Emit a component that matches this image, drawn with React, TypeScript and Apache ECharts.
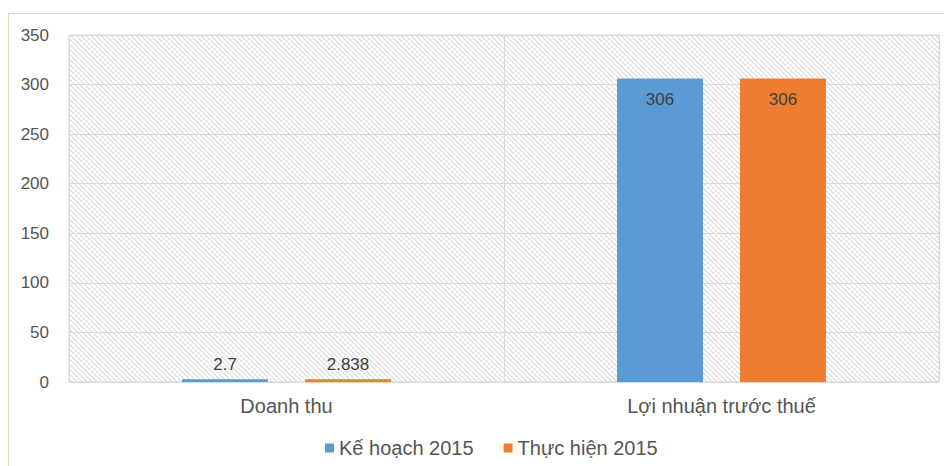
import React, { useEffect, useRef } from "react";
import * as echarts from "echarts";

const categories = ["Doanh thu", "Lợi nhuận trước thuế"];
const seriesNames = ["Kế hoạch 2015", "Thực hiện 2015"];
const planValues = [2.7, 306];
const actualValues = [2.838, 306];
const labelPositions = ["top", "insideTop"];
const yTicks = { min: 0, max: 350, interval: 50 };
const colors = ["#5b9bd5", "#ed7d31"];

function makeHatch() {
  const c = document.createElement("canvas");
  const n = 5;
  c.width = n;
  c.height = n;
  const ctx = c.getContext("2d")!;
  ctx.fillStyle = "#ffffff";
  ctx.fillRect(0, 0, n, n);
  for (let i = 0; i < n; i++) {
    ctx.fillStyle = "#dadada";
    ctx.fillRect(i, i, 1, 1);
    ctx.fillStyle = "#eeeeee";
    ctx.fillRect((i + 1) % n, i, 1, 1);
  }
  return c;
}

export default function App() {
  const ref = useRef<HTMLDivElement>(null);
  useEffect(() => {
    if (!ref.current) return;
    const chart = echarts.init(ref.current, null, { renderer: "svg" });
    const font = "Liberation Sans, Arial, sans-serif";
    const mk = (vals: number[]) =>
      vals.map((v, i) => ({
        value: v,
        label: { position: labelPositions[i] as any, distance: labelPositions[i] === "top" ? 6 : 12 },
      }));
    const hatch = makeHatch();
    chart.setOption({
      animation: false,
      backgroundColor: "#ffffff",
      textStyle: { fontFamily: font },
      graphic: [
        { type: "line", shape: { x1: 8.5, y1: 13.5, x2: 8.5, y2: 466 }, style: { stroke: "#dcd8c4", lineWidth: 1 } },
        { type: "line", shape: { x1: 8, y1: 13.5, x2: 944, y2: 13.5 }, style: { stroke: "#dcd8c4", lineWidth: 1 } },
      ],
      grid: {
        left: 69,
        top: 35,
        right: 5,
        bottom: 84,
        show: true,
        borderColor: "#d9d9d9",
        borderWidth: 1,
        backgroundColor: { image: hatch, repeat: "repeat", imageWidth: 5, imageHeight: 5 } as any,
      },
      legend: {
        left: 320,
        top: 433,
        icon: "rect",
        itemWidth: 9,
        itemHeight: 9,
        itemGap: 30,
        textStyle: { fontFamily: font, fontSize: 20, color: "#555555" },
        data: seriesNames,
      },
      xAxis: {
        type: "category",
        data: categories,
        axisLine: { lineStyle: { color: "#d9d9d9" } },
        axisTick: { show: false },
        splitLine: { show: true, lineStyle: { color: "#d9d9d9" } },
        axisLabel: { fontFamily: font, fontSize: 20, color: "#555555", margin: 14 },
      },
      yAxis: {
        type: "value",
        min: yTicks.min,
        max: yTicks.max,
        interval: yTicks.interval,
        axisLine: { show: false },
        axisTick: { show: false },
        splitLine: { lineStyle: { color: "#d9d9d9" } },
        axisLabel: { fontFamily: font, fontSize: 17, color: "#555555", margin: 20 },
      },
      series: [
        {
          name: seriesNames[0],
          type: "bar",
          data: mk(planValues),
          barWidth: 86,
          barGap: "43%",
          itemStyle: { color: colors[0] },
          label: { show: true, fontFamily: font, fontSize: 17, color: "#404040" },
        },
        {
          name: seriesNames[1],
          type: "bar",
          data: mk(actualValues),
          barWidth: 86,
          barGap: "43%",
          itemStyle: { color: colors[1] },
          label: { show: true, fontFamily: font, fontSize: 17, color: "#404040" },
        },
      ],
    });
    return () => chart.dispose();
  }, []);
  return <div ref={ref} style={{ width: 944, height: 466, position: "absolute", left: 0, top: 0 }} />;
}
